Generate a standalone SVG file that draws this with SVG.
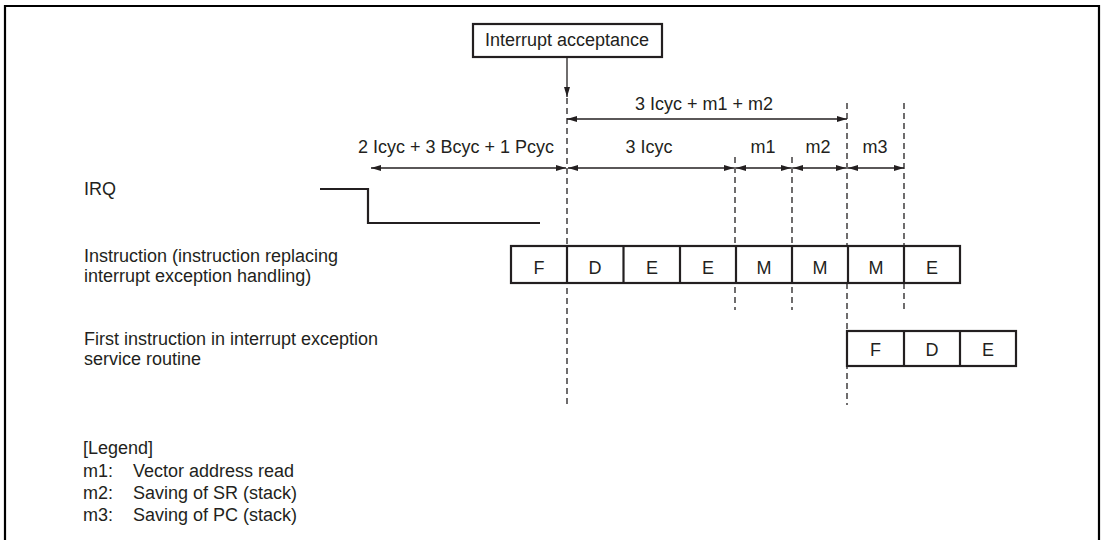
<svg xmlns="http://www.w3.org/2000/svg" width="1101" height="540" viewBox="0 0 1101 540">
<defs>
<marker id="ah" viewBox="0 0 10 6" refX="10" refY="3" markerWidth="10" markerHeight="6" markerUnits="userSpaceOnUse" orient="auto-start-reverse">
<path d="M0,0 L10,3 L0,6 z" fill="#231f20"/>
</marker>
<style>
text{font-family:"Liberation Sans",Arial,sans-serif;font-size:18px;fill:#231f20}
.c{text-anchor:middle}
.box{fill:#fff;stroke:#231f20;stroke-width:2.2}
.dash{stroke:#231f20;stroke-width:1.3;stroke-dasharray:6 4;fill:none}
.arr{stroke:#231f20;stroke-width:1.3;fill:none;marker-start:url(#ah);marker-end:url(#ah)}
.sig{stroke:#231f20;stroke-width:2.2;fill:none}
</style>
</defs>
<rect width="1101" height="540" fill="#fff"/>
<path d="M5,545 V6 H1099 V545" fill="none" stroke="#000" stroke-width="2.2"/>

<g id="interrupt-acceptance">
<rect class="box" x="473" y="24" width="189" height="33"/>
<text class="c" x="567" y="46">Interrupt acceptance</text>
</g>

<g id="connectors">
<line x1="567" y1="57" x2="567" y2="97" stroke="#231f20" stroke-width="1.3" marker-end="url(#ah)"/>
<line class="dash" x1="567" y1="98" x2="567" y2="405"/>
<line class="dash" x1="847" y1="103" x2="847" y2="405"/>
<line class="dash" x1="904" y1="103" x2="904" y2="310"/>
<line class="dash" x1="735" y1="157" x2="735" y2="310"/>
<line class="dash" x1="792" y1="157" x2="792" y2="310"/>
<line class="arr" x1="567" y1="119" x2="847" y2="119"/>
<line class="arr" x1="371" y1="168" x2="566" y2="168"/>
<line class="arr" x1="568" y1="168" x2="734" y2="168"/>
<line class="arr" x1="736" y1="168" x2="791" y2="168"/>
<line class="arr" x1="793" y1="168" x2="846" y2="168"/>
<line class="arr" x1="848" y1="168" x2="904" y2="168"/>
</g>

<g id="timing-labels">
<text class="c" x="704" y="110">3 Icyc + m1 + m2</text>
<text class="c" x="456" y="153">2 Icyc + 3 Bcyc + 1 Pcyc</text>
<text class="c" x="649" y="153">3 Icyc</text>
<text class="c" x="763" y="153">m1</text>
<text class="c" x="818" y="153">m2</text>
<text class="c" x="875" y="153">m3</text>
</g>

<g id="irq">
<text x="84" y="195">IRQ</text>
<path class="sig" d="M320,189 H368 V223 H540"/>
</g>

<g id="instruction">
<text x="84" y="262">Instruction (instruction replacing</text>
<text x="84" y="282">interrupt exception handling)</text>
<rect class="box" x="511" y="246" width="449" height="37"/>
<g stroke="#231f20" stroke-width="2.2">
<line x1="567" y1="246" x2="567" y2="283"/>
<line x1="623.5" y1="246" x2="623.5" y2="283"/>
<line x1="680" y1="246" x2="680" y2="283"/>
<line x1="736" y1="246" x2="736" y2="283"/>
<line x1="792" y1="246" x2="792" y2="283"/>
<line x1="848" y1="246" x2="848" y2="283"/>
<line x1="904" y1="246" x2="904" y2="283"/>
</g>
<text class="c" x="539" y="274">F</text>
<text class="c" x="595" y="274">D</text>
<text class="c" x="652" y="274">E</text>
<text class="c" x="708" y="274">E</text>
<text class="c" x="764" y="274">M</text>
<text class="c" x="820" y="274">M</text>
<text class="c" x="876" y="274">M</text>
<text class="c" x="932" y="274">E</text>
</g>

<g id="first-instruction">
<text x="84" y="345">First instruction in interrupt exception</text>
<text x="84" y="365">service routine</text>
<rect class="box" x="847" y="331" width="169" height="35"/>
<g stroke="#231f20" stroke-width="2.2">
<line x1="904" y1="331" x2="904" y2="366"/>
<line x1="960" y1="331" x2="960" y2="366"/>
</g>
<text class="c" x="875.5" y="356">F</text>
<text class="c" x="932" y="356">D</text>
<text class="c" x="988" y="356">E</text>
</g>

<g id="legend">
<text x="83" y="454">[Legend]</text>
<text x="83" y="477">m1:</text>
<text x="133" y="477">Vector address read</text>
<text x="83" y="499">m2:</text>
<text x="133" y="499">Saving of SR (stack)</text>
<text x="83" y="521">m3:</text>
<text x="133" y="521">Saving of PC (stack)</text>
</g>
</svg>
